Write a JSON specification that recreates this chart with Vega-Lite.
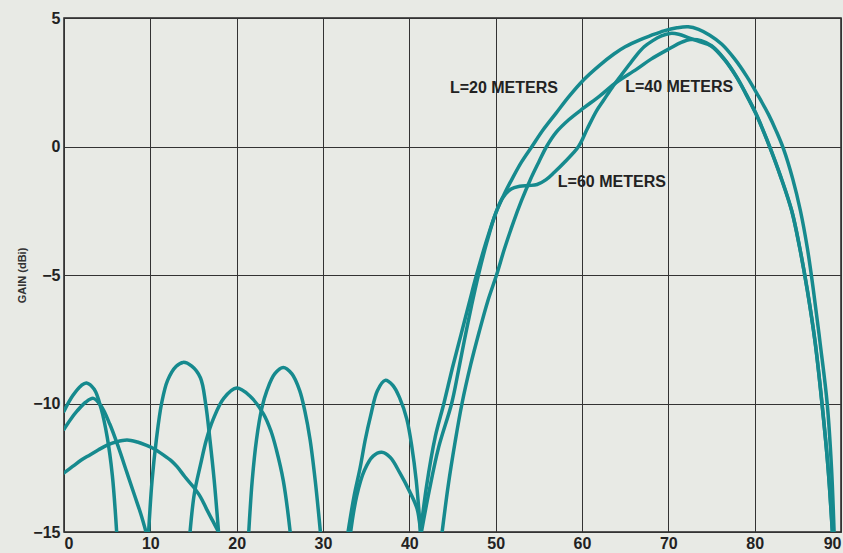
{
  "$schema": "https://vega.github.io/schema/vega-lite/v6.json",
  "width": 777,
  "height": 514,
  "autosize": {"type": "none"},
  "padding": {"left": 64, "top": 18, "right": 2, "bottom": 21},
  "background": "#e8eae5",
  "config": {
    "view": {"stroke": "#222", "strokeWidth": 1.5, "fill": "#e8eae5"},
    "axis": {
      "gridColor": "#333",
      "gridWidth": 1,
      "gridOpacity": 1,
      "domain": false,
      "ticks": false,
      "labelFont": "Liberation Sans",
      "labelFontWeight": "bold",
      "labelFontSize": 16,
      "labelColor": "#222",
      "titleFont": "Liberation Sans",
      "titleFontWeight": "bold",
      "titleColor": "#333"
    }
  },
  "datasets": {
    "curves": [
      {"s": "L=20", "seg": 1, "a": 0, "g": -12.7},
      {"s": "L=20", "seg": 1, "a": 1, "g": -12.45},
      {"s": "L=20", "seg": 1, "a": 2, "g": -12.2},
      {"s": "L=20", "seg": 1, "a": 3, "g": -12.0},
      {"s": "L=20", "seg": 1, "a": 4, "g": -11.8},
      {"s": "L=20", "seg": 1, "a": 5, "g": -11.62},
      {"s": "L=20", "seg": 1, "a": 6, "g": -11.5},
      {"s": "L=20", "seg": 1, "a": 7.3, "g": -11.42},
      {"s": "L=20", "seg": 1, "a": 8.5, "g": -11.5},
      {"s": "L=20", "seg": 1, "a": 9.5, "g": -11.62},
      {"s": "L=20", "seg": 1, "a": 10.3, "g": -11.74},
      {"s": "L=20", "seg": 1, "a": 11.5, "g": -12.0},
      {"s": "L=20", "seg": 1, "a": 12.5, "g": -12.25},
      {"s": "L=20", "seg": 1, "a": 13.1, "g": -12.46},
      {"s": "L=20", "seg": 1, "a": 14, "g": -12.85},
      {"s": "L=20", "seg": 1, "a": 15, "g": -13.25},
      {"s": "L=20", "seg": 1, "a": 15.8, "g": -13.63},
      {"s": "L=20", "seg": 1, "a": 16.5, "g": -14.1},
      {"s": "L=20", "seg": 1, "a": 17.2, "g": -14.55},
      {"s": "L=20", "seg": 1, "a": 17.9, "g": -15},
      {"s": "L=20", "seg": 2, "a": 33.2, "g": -15},
      {"s": "L=20", "seg": 2, "a": 33.9, "g": -13.6},
      {"s": "L=20", "seg": 2, "a": 34.8, "g": -12.6},
      {"s": "L=20", "seg": 2, "a": 35.8, "g": -12.05},
      {"s": "L=20", "seg": 2, "a": 36.8, "g": -11.9},
      {"s": "L=20", "seg": 2, "a": 37.8, "g": -12.1},
      {"s": "L=20", "seg": 2, "a": 38.9, "g": -12.7},
      {"s": "L=20", "seg": 2, "a": 40, "g": -13.4},
      {"s": "L=20", "seg": 2, "a": 40.9, "g": -14.1},
      {"s": "L=20", "seg": 2, "a": 41.3, "g": -15},
      {"s": "L=20", "seg": 3, "a": 41.3, "g": -15},
      {"s": "L=20", "seg": 3, "a": 42.0, "g": -13.2},
      {"s": "L=20", "seg": 3, "a": 43.0, "g": -11.3},
      {"s": "L=20", "seg": 3, "a": 44.0, "g": -10.0},
      {"s": "L=20", "seg": 3, "a": 45.0, "g": -8.6},
      {"s": "L=20", "seg": 3, "a": 46.0, "g": -7.3},
      {"s": "L=20", "seg": 3, "a": 47.0, "g": -6.0},
      {"s": "L=20", "seg": 3, "a": 47.7, "g": -5.1},
      {"s": "L=20", "seg": 3, "a": 49, "g": -3.6},
      {"s": "L=20", "seg": 3, "a": 50, "g": -2.6},
      {"s": "L=20", "seg": 3, "a": 51, "g": -1.85},
      {"s": "L=20", "seg": 3, "a": 52, "g": -1.2},
      {"s": "L=20", "seg": 3, "a": 53, "g": -0.6},
      {"s": "L=20", "seg": 3, "a": 54.2, "g": 0},
      {"s": "L=20", "seg": 3, "a": 55.5, "g": 0.65},
      {"s": "L=20", "seg": 3, "a": 57, "g": 1.3},
      {"s": "L=20", "seg": 3, "a": 58.5, "g": 1.95},
      {"s": "L=20", "seg": 3, "a": 60.2, "g": 2.6},
      {"s": "L=20", "seg": 3, "a": 62, "g": 3.15},
      {"s": "L=20", "seg": 3, "a": 63.7, "g": 3.6},
      {"s": "L=20", "seg": 3, "a": 65, "g": 3.88},
      {"s": "L=20", "seg": 3, "a": 66.7, "g": 4.15},
      {"s": "L=20", "seg": 3, "a": 68, "g": 4.32},
      {"s": "L=20", "seg": 3, "a": 69.5, "g": 4.5},
      {"s": "L=20", "seg": 3, "a": 71, "g": 4.62},
      {"s": "L=20", "seg": 3, "a": 72.3, "g": 4.66},
      {"s": "L=20", "seg": 3, "a": 73.5, "g": 4.56},
      {"s": "L=20", "seg": 3, "a": 74.8, "g": 4.33},
      {"s": "L=20", "seg": 3, "a": 76.2, "g": 3.98},
      {"s": "L=20", "seg": 3, "a": 77.7, "g": 3.4},
      {"s": "L=20", "seg": 3, "a": 79.1, "g": 2.72},
      {"s": "L=20", "seg": 3, "a": 80.4, "g": 1.98},
      {"s": "L=20", "seg": 3, "a": 81.6, "g": 1.25},
      {"s": "L=20", "seg": 3, "a": 82.5, "g": 0.6},
      {"s": "L=20", "seg": 3, "a": 83.35, "g": -0.1},
      {"s": "L=20", "seg": 3, "a": 84.4, "g": -1.25},
      {"s": "L=20", "seg": 3, "a": 85.3, "g": -2.5},
      {"s": "L=20", "seg": 3, "a": 86.1, "g": -3.95},
      {"s": "L=20", "seg": 3, "a": 86.8, "g": -5.58},
      {"s": "L=20", "seg": 3, "a": 87.6, "g": -7.7},
      {"s": "L=20", "seg": 3, "a": 88.4, "g": -10},
      {"s": "L=20", "seg": 3, "a": 88.9, "g": -12.5},
      {"s": "L=20", "seg": 3, "a": 89.2, "g": -15},

      {"s": "L=40", "seg": 1, "a": 0, "g": -11.0},
      {"s": "L=40", "seg": 1, "a": 0.8, "g": -10.6},
      {"s": "L=40", "seg": 1, "a": 1.5, "g": -10.3},
      {"s": "L=40", "seg": 1, "a": 2.5, "g": -9.95},
      {"s": "L=40", "seg": 1, "a": 3.4, "g": -9.8},
      {"s": "L=40", "seg": 1, "a": 4.3, "g": -10.1},
      {"s": "L=40", "seg": 1, "a": 5.3, "g": -10.8},
      {"s": "L=40", "seg": 1, "a": 6.3, "g": -11.7},
      {"s": "L=40", "seg": 1, "a": 7.3, "g": -12.7},
      {"s": "L=40", "seg": 1, "a": 8.2, "g": -13.6},
      {"s": "L=40", "seg": 1, "a": 8.9, "g": -14.3},
      {"s": "L=40", "seg": 1, "a": 9.5, "g": -15},
      {"s": "L=40", "seg": 2, "a": 14.6, "g": -15},
      {"s": "L=40", "seg": 2, "a": 15.1, "g": -13.5},
      {"s": "L=40", "seg": 2, "a": 15.8, "g": -12.4},
      {"s": "L=40", "seg": 2, "a": 16.5, "g": -11.4},
      {"s": "L=40", "seg": 2, "a": 17.3, "g": -10.6},
      {"s": "L=40", "seg": 2, "a": 18.5, "g": -9.8},
      {"s": "L=40", "seg": 2, "a": 20, "g": -9.4},
      {"s": "L=40", "seg": 2, "a": 21.5, "g": -9.7},
      {"s": "L=40", "seg": 2, "a": 23.1, "g": -10.4},
      {"s": "L=40", "seg": 2, "a": 24, "g": -11.1},
      {"s": "L=40", "seg": 2, "a": 24.6, "g": -11.8},
      {"s": "L=40", "seg": 2, "a": 25.4, "g": -13},
      {"s": "L=40", "seg": 2, "a": 26.2, "g": -15},
      {"s": "L=40", "seg": 3, "a": 43.8, "g": -15},
      {"s": "L=40", "seg": 3, "a": 44.5, "g": -13.2},
      {"s": "L=40", "seg": 3, "a": 45.3, "g": -11.5},
      {"s": "L=40", "seg": 3, "a": 46.1, "g": -10.0},
      {"s": "L=40", "seg": 3, "a": 47.1, "g": -8.5},
      {"s": "L=40", "seg": 3, "a": 48.1, "g": -7.2},
      {"s": "L=40", "seg": 3, "a": 49.1, "g": -6.0},
      {"s": "L=40", "seg": 3, "a": 50.1, "g": -5.0},
      {"s": "L=40", "seg": 3, "a": 51, "g": -4.0},
      {"s": "L=40", "seg": 3, "a": 52, "g": -3.0},
      {"s": "L=40", "seg": 3, "a": 53, "g": -2.1},
      {"s": "L=40", "seg": 3, "a": 54, "g": -1.3},
      {"s": "L=40", "seg": 3, "a": 55, "g": -0.6},
      {"s": "L=40", "seg": 3, "a": 55.9, "g": 0},
      {"s": "L=40", "seg": 3, "a": 57, "g": 0.55},
      {"s": "L=40", "seg": 3, "a": 58.5, "g": 1.05},
      {"s": "L=40", "seg": 3, "a": 60.2, "g": 1.5},
      {"s": "L=40", "seg": 3, "a": 62, "g": 1.95},
      {"s": "L=40", "seg": 3, "a": 64, "g": 2.5},
      {"s": "L=40", "seg": 3, "a": 66.3, "g": 3.0},
      {"s": "L=40", "seg": 3, "a": 68, "g": 3.4},
      {"s": "L=40", "seg": 3, "a": 70.2, "g": 3.82},
      {"s": "L=40", "seg": 3, "a": 71.5, "g": 4.05},
      {"s": "L=40", "seg": 3, "a": 72.6, "g": 4.16},
      {"s": "L=40", "seg": 3, "a": 73.8, "g": 4.12},
      {"s": "L=40", "seg": 3, "a": 75, "g": 3.92},
      {"s": "L=40", "seg": 3, "a": 76.5, "g": 3.4},
      {"s": "L=40", "seg": 3, "a": 77.9, "g": 2.72},
      {"s": "L=40", "seg": 3, "a": 79, "g": 2.05},
      {"s": "L=40", "seg": 3, "a": 80.1, "g": 1.32},
      {"s": "L=40", "seg": 3, "a": 81, "g": 0.62},
      {"s": "L=40", "seg": 3, "a": 81.8, "g": -0.05},
      {"s": "L=40", "seg": 3, "a": 83, "g": -1.15},
      {"s": "L=40", "seg": 3, "a": 84.3, "g": -2.5},
      {"s": "L=40", "seg": 3, "a": 85.2, "g": -3.9},
      {"s": "L=40", "seg": 3, "a": 86.1, "g": -5.58},
      {"s": "L=40", "seg": 3, "a": 87, "g": -7.6},
      {"s": "L=40", "seg": 3, "a": 87.8, "g": -10},
      {"s": "L=40", "seg": 3, "a": 88.5, "g": -12.5},
      {"s": "L=40", "seg": 3, "a": 89.0, "g": -15},

      {"s": "L=60", "seg": 1, "a": 0, "g": -10.3},
      {"s": "L=60", "seg": 1, "a": 1, "g": -9.7},
      {"s": "L=60", "seg": 1, "a": 2, "g": -9.3},
      {"s": "L=60", "seg": 1, "a": 2.6, "g": -9.2},
      {"s": "L=60", "seg": 1, "a": 3.5, "g": -9.45},
      {"s": "L=60", "seg": 1, "a": 4.3, "g": -10.2},
      {"s": "L=60", "seg": 1, "a": 5, "g": -11.3},
      {"s": "L=60", "seg": 1, "a": 5.6, "g": -12.8},
      {"s": "L=60", "seg": 1, "a": 6.1, "g": -15},
      {"s": "L=60", "seg": 2, "a": 9.8, "g": -15},
      {"s": "L=60", "seg": 2, "a": 10.2, "g": -13},
      {"s": "L=60", "seg": 2, "a": 10.7, "g": -11.4},
      {"s": "L=60", "seg": 2, "a": 11.3, "g": -10},
      {"s": "L=60", "seg": 2, "a": 12, "g": -9.1},
      {"s": "L=60", "seg": 2, "a": 13, "g": -8.55},
      {"s": "L=60", "seg": 2, "a": 13.8, "g": -8.4},
      {"s": "L=60", "seg": 2, "a": 14.8, "g": -8.55},
      {"s": "L=60", "seg": 2, "a": 15.8, "g": -9.0},
      {"s": "L=60", "seg": 2, "a": 16.4, "g": -10},
      {"s": "L=60", "seg": 2, "a": 16.9, "g": -11.4},
      {"s": "L=60", "seg": 2, "a": 17.4, "g": -13},
      {"s": "L=60", "seg": 2, "a": 17.9, "g": -15},
      {"s": "L=60", "seg": 3, "a": 21.4, "g": -15},
      {"s": "L=60", "seg": 3, "a": 21.8, "g": -13},
      {"s": "L=60", "seg": 3, "a": 22.3, "g": -11.4},
      {"s": "L=60", "seg": 3, "a": 22.9, "g": -10.2},
      {"s": "L=60", "seg": 3, "a": 23.5, "g": -9.5},
      {"s": "L=60", "seg": 3, "a": 24.4, "g": -8.85},
      {"s": "L=60", "seg": 3, "a": 25.4, "g": -8.6},
      {"s": "L=60", "seg": 3, "a": 26.4, "g": -8.85},
      {"s": "L=60", "seg": 3, "a": 27.3, "g": -9.5},
      {"s": "L=60", "seg": 3, "a": 27.9, "g": -10.3},
      {"s": "L=60", "seg": 3, "a": 28.5, "g": -11.4},
      {"s": "L=60", "seg": 3, "a": 29.1, "g": -13},
      {"s": "L=60", "seg": 3, "a": 29.7, "g": -15},
      {"s": "L=60", "seg": 4, "a": 32.9, "g": -15},
      {"s": "L=60", "seg": 4, "a": 33.6, "g": -13.6},
      {"s": "L=60", "seg": 4, "a": 34.3, "g": -12.5},
      {"s": "L=60", "seg": 4, "a": 34.9, "g": -11.4},
      {"s": "L=60", "seg": 4, "a": 35.5, "g": -10.5},
      {"s": "L=60", "seg": 4, "a": 36.3, "g": -9.5},
      {"s": "L=60", "seg": 4, "a": 37.2, "g": -9.1},
      {"s": "L=60", "seg": 4, "a": 38.1, "g": -9.3},
      {"s": "L=60", "seg": 4, "a": 38.9, "g": -9.8},
      {"s": "L=60", "seg": 4, "a": 39.7, "g": -10.6},
      {"s": "L=60", "seg": 4, "a": 40.3, "g": -11.7},
      {"s": "L=60", "seg": 4, "a": 40.8, "g": -13},
      {"s": "L=60", "seg": 4, "a": 41.3, "g": -15},
      {"s": "L=60", "seg": 5, "a": 41.4, "g": -15},
      {"s": "L=60", "seg": 5, "a": 42.3, "g": -13.4},
      {"s": "L=60", "seg": 5, "a": 43.4, "g": -11.7},
      {"s": "L=60", "seg": 5, "a": 44.9, "g": -10.0},
      {"s": "L=60", "seg": 5, "a": 45.7, "g": -8.7},
      {"s": "L=60", "seg": 5, "a": 46.4, "g": -7.5},
      {"s": "L=60", "seg": 5, "a": 47.2, "g": -6.2},
      {"s": "L=60", "seg": 5, "a": 48.0, "g": -5.0},
      {"s": "L=60", "seg": 5, "a": 49.0, "g": -3.7},
      {"s": "L=60", "seg": 5, "a": 50.0, "g": -2.6},
      {"s": "L=60", "seg": 5, "a": 50.8, "g": -2.0},
      {"s": "L=60", "seg": 5, "a": 51.8, "g": -1.65},
      {"s": "L=60", "seg": 5, "a": 52.8, "g": -1.55},
      {"s": "L=60", "seg": 5, "a": 53.8, "g": -1.52},
      {"s": "L=60", "seg": 5, "a": 54.8, "g": -1.48},
      {"s": "L=60", "seg": 5, "a": 55.8, "g": -1.3},
      {"s": "L=60", "seg": 5, "a": 56.8, "g": -1.0},
      {"s": "L=60", "seg": 5, "a": 58, "g": -0.6},
      {"s": "L=60", "seg": 5, "a": 59.6, "g": 0},
      {"s": "L=60", "seg": 5, "a": 60.6, "g": 0.68},
      {"s": "L=60", "seg": 5, "a": 61.7, "g": 1.4},
      {"s": "L=60", "seg": 5, "a": 62.5, "g": 1.8},
      {"s": "L=60", "seg": 5, "a": 63.5, "g": 2.3},
      {"s": "L=60", "seg": 5, "a": 64.6, "g": 2.8},
      {"s": "L=60", "seg": 5, "a": 65.5, "g": 3.2},
      {"s": "L=60", "seg": 5, "a": 66.3, "g": 3.55},
      {"s": "L=60", "seg": 5, "a": 67.2, "g": 3.88},
      {"s": "L=60", "seg": 5, "a": 68.2, "g": 4.12},
      {"s": "L=60", "seg": 5, "a": 69.2, "g": 4.3},
      {"s": "L=60", "seg": 5, "a": 70.2, "g": 4.4},
      {"s": "L=60", "seg": 5, "a": 71.2, "g": 4.37},
      {"s": "L=60", "seg": 5, "a": 72.3, "g": 4.24},
      {"s": "L=60", "seg": 5, "a": 73.6, "g": 4.08},
      {"s": "L=60", "seg": 5, "a": 75, "g": 3.9},
      {"s": "L=60", "seg": 5, "a": 76.5, "g": 3.38},
      {"s": "L=60", "seg": 5, "a": 77.9, "g": 2.7},
      {"s": "L=60", "seg": 5, "a": 79, "g": 2.03},
      {"s": "L=60", "seg": 5, "a": 80.1, "g": 1.3},
      {"s": "L=60", "seg": 5, "a": 81, "g": 0.6},
      {"s": "L=60", "seg": 5, "a": 81.8, "g": -0.07},
      {"s": "L=60", "seg": 5, "a": 83, "g": -1.17},
      {"s": "L=60", "seg": 5, "a": 84.3, "g": -2.52},
      {"s": "L=60", "seg": 5, "a": 85.2, "g": -3.92},
      {"s": "L=60", "seg": 5, "a": 86.1, "g": -5.6},
      {"s": "L=60", "seg": 5, "a": 87, "g": -7.62},
      {"s": "L=60", "seg": 5, "a": 87.8, "g": -10.02},
      {"s": "L=60", "seg": 5, "a": 88.5, "g": -12.5},
      {"s": "L=60", "seg": 5, "a": 89.0, "g": -15}
    ],
    "labels": [
      {"text": "L=20 METERS", "a": 44.7, "g": 2.28},
      {"text": "L=40 METERS", "a": 65.0, "g": 2.32},
      {"text": "L=60 METERS", "a": 57.2, "g": -1.38}
    ]
  },
  "layer": [
    {
      "data": {"name": "curves"},
      "mark": {"type": "line", "color": "#168a8e", "strokeWidth": 3.5, "clip": true, "interpolate": "catmull-rom", "strokeCap": "round", "strokeJoin": "round"},
      "encoding": {
        "x": {
          "field": "a", "type": "quantitative",
          "scale": {"domain": [0, 90], "nice": false},
          "axis": {"values": [0, 10, 20, 30, 40, 50, 60, 70, 80, 90], "title": null, "labelPadding": 3, "labelFlush": true}
        },
        "y": {
          "field": "g", "type": "quantitative",
          "scale": {"domain": [-15, 5], "nice": false},
          "axis": {"values": [-15, -10, -5, 0, 5], "title": "GAIN (dBi)", "titleFontSize": 11, "titlePadding": 5, "labelPadding": 4}
        },
        "detail": [{"field": "s"}, {"field": "seg"}]
      }
    },
    {
      "data": {"name": "labels"},
      "mark": {"type": "text", "align": "left", "baseline": "middle", "font": "Liberation Sans", "fontWeight": "bold", "fontSize": 16, "color": "#222"},
      "encoding": {
        "x": {"field": "a", "type": "quantitative"},
        "y": {"field": "g", "type": "quantitative"},
        "text": {"field": "text"}
      }
    }
  ]
}
